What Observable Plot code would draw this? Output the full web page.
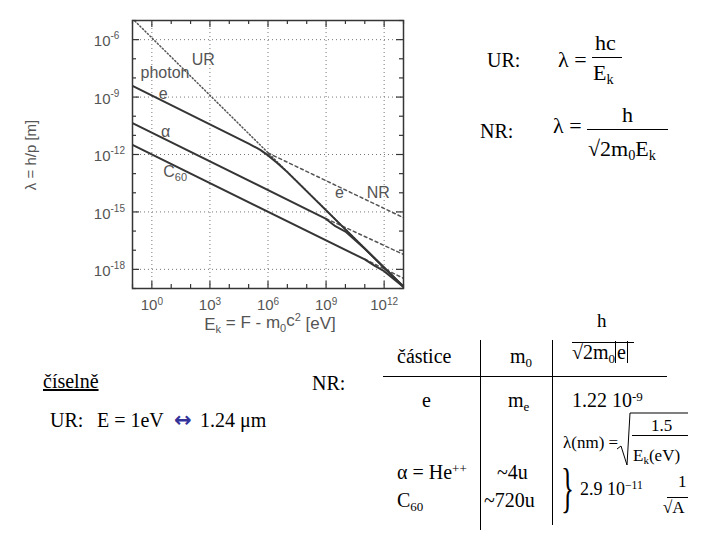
<!DOCTYPE html>
<html><head><meta charset="utf-8">
<script src="https://cdn.jsdelivr.net/npm/d3@7"></script>
<script src="https://cdn.jsdelivr.net/npm/@observablehq/plot@0.6"></script>
<style>
body{margin:0;background:#fff;}
#page{position:relative;width:720px;height:540px;overflow:hidden;font-family:"Liberation Serif","Times New Roman",serif;color:#000;background:#fff;}
#chart{position:absolute;left:0;top:0;}
.t{position:absolute;white-space:nowrap;line-height:1;}
.bar{position:absolute;background:#000;}
sub{font-size:0.65em;vertical-align:-0.3em;line-height:0;}
sup{font-size:0.65em;vertical-align:0.5em;line-height:0;}
</style></head>
<body><div id="page"><div id="chart"></div>

<!-- formulas, upper right -->
<div class="t" style="left:487px;top:50px;font-size:20px;">UR:</div>
<div class="t" style="left:558px;top:49px;font-size:22px;">λ =</div>
<div class="t" style="left:595px;top:32px;font-size:22px;">hc</div>
<div class="bar" style="left:592px;top:57px;width:30px;height:1px;"></div>
<div class="t" style="left:593px;top:62px;font-size:22px;">E<sub>k</sub></div>

<div class="t" style="left:480px;top:121px;font-size:20px;">NR:</div>
<div class="t" style="left:553px;top:115px;font-size:22px;">λ =</div>
<div class="t" style="left:622px;top:104px;font-size:22px;">h</div>
<div class="bar" style="left:587px;top:129px;width:81px;height:1px;"></div>
<div class="t" style="left:588px;top:138px;font-size:22px;">√2m<sub>0</sub>E<sub>k</sub></div>

<!-- lower left -->
<div class="t" style="left:43px;top:371px;font-size:20px;"><u>číselně</u></div>
<div class="t" style="left:312px;top:373px;font-size:20px;">NR:</div>
<div class="t" style="left:50px;top:410px;font-size:20px;">UR:</div>
<div class="t" style="left:97px;top:410px;font-size:20px;">E = 1eV</div>
<div class="t" style="left:174px;top:410px;font-size:21px;color:#33339a;font-weight:bold;font-family:'DejaVu Sans';">↔</div>
<div class="t" style="left:200px;top:410px;font-size:20px;">1.24 μm</div>

<!-- table -->
<div class="t" style="left:597px;top:311px;font-size:19px;">h</div>
<div class="bar" style="left:572px;top:342px;width:62px;height:1px;"></div>
<div class="t" style="left:572px;top:342px;font-size:20px;">√2m<sub>0</sub><span style="border-left:1px solid #000;border-right:1px solid #000;padding:0 1px;">e</span></div>
<div class="t" style="left:397px;top:346px;font-size:20px;">částice</div>
<div class="t" style="left:510px;top:346px;font-size:20px;">m<sub>0</sub></div>
<div class="bar" style="left:480px;top:340px;width:1px;height:190px;"></div>
<div class="bar" style="left:552px;top:340px;width:1px;height:185px;"></div>
<div class="bar" style="left:383px;top:376px;width:284px;height:1px;"></div>
<div class="t" style="left:422px;top:390px;font-size:20px;">e</div>
<div class="t" style="left:508px;top:390px;font-size:20px;">m<sub>e</sub></div>
<div class="t" style="left:572px;top:390px;font-size:20px;">1.22 10<sup>-9</sup></div>

<div class="t" style="left:563px;top:434px;font-size:17px;">λ(nm) =</div>
<svg style="position:absolute;left:0;top:0;" width="720" height="540">
  <path d="M617,449 L621,446 L627,465 L630,413 L688,413" fill="none" stroke="#000" stroke-width="1"/>
</svg>
<div class="t" style="left:651px;top:417px;font-size:17px;">1.5</div>
<div class="bar" style="left:632px;top:435px;width:56px;height:1px;"></div>
<div class="t" style="left:633px;top:447px;font-size:17px;">E<sub>k</sub>(eV)</div>

<div class="t" style="left:397px;top:462px;font-size:20px;">α = He<sup>++</sup></div>
<div class="t" style="left:497px;top:462px;font-size:20px;">~4u</div>
<div class="t" style="left:397px;top:490px;font-size:20px;">C<sub>60</sub></div>
<div class="t" style="left:484px;top:490px;font-size:20px;">~720u</div>
<div class="t" style="left:561px;top:461px;font-size:54px;transform:scaleX(0.5);transform-origin:left top;">}</div>
<div class="t" style="left:580px;top:480px;font-size:18px;">2.9 10<sup>−11</sup></div>
<div class="t" style="left:678px;top:473px;font-size:17px;">1</div>
<div class="bar" style="left:667px;top:497px;width:21px;height:1px;"></div>
<div class="t" style="left:663px;top:499px;font-size:17px;">√A</div>
</div>

<script>
// ---- data (E_k in eV, λ in m) ----
const photonE = [1e-1, 1e13];
const photonL = [1.24e-5, 1.24e-19];

const electronE = [1e-1, 1e5, 4e5, 1e6, 3e6, 1e7, 1e13];
const electronL = [3.8e-9, 3.7e-12, 1.75e-12, 9e-13, 3.6e-13, 1.2e-13, 1.24e-19];
const electronNRE = [1e6, 1e13];
const electronNRL = [1.2e-12, 5e-16];

const alphaE = [1e-1, 1e9, 3e9, 1e10, 1e11, 1e13];
const alphaL = [4.4e-11, 4.3e-16, 1.8e-16, 9.4e-17, 1.2e-17, 1.24e-19];
const alphaNRE = [1e9, 1e13];
const alphaNRL = [4.5e-16, 6e-18];

const c60E = [1e-1, 1e11, 3e11, 1e12, 1e13];
const c60L = [3.2e-12, 3.3e-18, 1.6e-18, 8e-19, 1.2e-19];
const c60NRE = [1e11, 1e13];
const c60NRL = [3.4e-18, 3.4e-19];

// labels drawn in the plot
const labelText = ["UR", "photon", "e", "α", "C60", "e", "NR"];
const labelE    = [450, 4.8, 3.8, 5.1, 16, 4.9e9, 5e11];
const labelL    = [9.3e-8, 1.9e-8, 1.5e-9, 1.45e-11, 1.26e-13, 1e-14, 1e-14];

// ticks
const xMajor = [1e0, 1e3, 1e6, 1e9, 1e12];
const yMajor = [1e-6, 1e-9, 1e-12, 1e-15, 1e-18];
const xMinor = [1e-1,1e1,1e2,1e4,1e5,1e7,1e8,1e10,1e11,1e13];
const yMinor = [1e-5,1e-7,1e-8,1e-10,1e-11,1e-13,1e-14,1e-16,1e-17,1e-19];

const rows = (E, L) => E.map((e, i) => ({E: e, L: L[i]}));
const labels = labelText.map((t, i) => ({t, E: labelE[i], L: labelL[i]}));

const W = 420, H = 340, mL = 132, mR = 17, mT = 20, mB = 52;
const PW = W - mL - mR, PH = H - mT - mB;
const ink = "#353535", gray = "#555";

const svg = Plot.plot({
  width: W, height: H,
  marginLeft: mL, marginRight: mR, marginTop: mT, marginBottom: mB,
  style: {fontFamily: "'Liberation Sans', Arial, sans-serif", fontSize: "15px", color: gray, background: "white"},
  x: {type: "log", domain: [1e-1, 1e13], axis: null},
  y: {type: "log", domain: [1e-19, 1e-5], axis: null},
  marks: [
    Plot.ruleX(xMajor, {x: d => d, stroke: "#777", strokeDasharray: "1,3", strokeWidth: 1}),
    Plot.ruleY(yMajor, {y: d => d, stroke: "#777", strokeDasharray: "1,3", strokeWidth: 1}),
    // inward ticks on all sides
    Plot.tickX(xMajor, {x: d => d, insetTop: PH - 7, stroke: ink, strokeWidth: 1.2}),
    Plot.tickX(xMinor, {x: d => d, insetTop: PH - 4, stroke: ink, strokeWidth: 1.2}),
    Plot.tickX(xMajor, {x: d => d, insetBottom: PH - 7, stroke: ink, strokeWidth: 1.2}),
    Plot.tickX(xMinor, {x: d => d, insetBottom: PH - 4, stroke: ink, strokeWidth: 1.2}),
    Plot.tickY(yMajor, {y: d => d, insetRight: PW - 7, stroke: ink, strokeWidth: 1.2}),
    Plot.tickY(yMinor, {y: d => d, insetRight: PW - 4, stroke: ink, strokeWidth: 1.2}),
    Plot.tickY(yMajor, {y: d => d, insetLeft: PW - 7, stroke: ink, strokeWidth: 1.2}),
    Plot.tickY(yMinor, {y: d => d, insetLeft: PW - 4, stroke: ink, strokeWidth: 1.2}),
    Plot.axisX(xMajor, {anchor: "bottom", tickSize: 0, tickPadding: 11, tickFormat: d => String(Math.round(Math.log10(d))), label: null}),
    Plot.axisY(yMajor, {anchor: "left", tickSize: 0, tickPadding: 22, dy: 2, tickFormat: d => String(Math.round(Math.log10(d))), label: null}),
    // lines
    Plot.line(rows(photonE, photonL), {x: "E", y: "L", stroke: gray, strokeWidth: 1.5, strokeDasharray: "1.2,2.3", clip: true}),
    Plot.line(rows(electronNRE, electronNRL), {x: "E", y: "L", stroke: gray, strokeWidth: 1.5, strokeDasharray: "3,3", clip: true}),
    Plot.line(rows(alphaNRE, alphaNRL), {x: "E", y: "L", stroke: gray, strokeWidth: 1.5, strokeDasharray: "3,3", clip: true}),
    Plot.line(rows(c60NRE, c60NRL), {x: "E", y: "L", stroke: gray, strokeWidth: 1.5, strokeDasharray: "3,3", clip: true}),
    Plot.line(rows(electronE, electronL), {x: "E", y: "L", stroke: ink, strokeWidth: 2, clip: true}),
    Plot.line(rows(alphaE, alphaL), {x: "E", y: "L", stroke: ink, strokeWidth: 2, clip: true}),
    Plot.line(rows(c60E, c60L), {x: "E", y: "L", stroke: ink, strokeWidth: 2, clip: true}),
    Plot.text(labels, {x: "E", y: "L", text: "t", fontSize: 16, fill: gray}),
    Plot.frame({stroke: ink, strokeWidth: 1.5})
  ]
});
document.getElementById("chart").appendChild(svg);

const S = d3.select(svg);
// x tick labels: 10 with superscript exponent, centered as a whole
S.selectAll("g[aria-label='x-axis tick label'] text").each(function() {
  const e = this.textContent; const t = d3.select(this); t.text("");
  t.append("tspan").text("10");
  t.append("tspan").attr("dy", "-0.5em").attr("font-size", "10px").text(e);
});
// y tick labels: "10" right-aligned, exponent hangs to the right
S.selectAll("g[aria-label='y-axis tick label'] text").each(function() {
  const e = this.textContent; const t = d3.select(this); t.text("10");
  d3.select(this.parentNode).append("text")
    .attr("transform", t.attr("transform")).attr("y", t.attr("y"))
    .attr("dy", "-0.55em").attr("text-anchor", "start").attr("font-size", "10px").text(e);
});
// subscript in C60 label
S.selectAll("g[aria-label='text'] text").each(function() {
  if (this.textContent === "C60") {
    const t = d3.select(this); t.text("");
    t.append("tspan").text("C");
    t.append("tspan").attr("dy", "0.35em").attr("font-size", "11px").text("60");
  }
});
// axis titles
const xl = S.append("text").attr("x", 270).attr("y", 330).attr("text-anchor", "middle")
  .attr("fill", gray).attr("font-size", "17px");
xl.append("tspan").text("E");
xl.append("tspan").attr("dy", "0.3em").attr("font-size", "11px").text("k");
xl.append("tspan").attr("dy", "-0.3em").text(" = F - m");
xl.append("tspan").attr("dy", "0.3em").attr("font-size", "11px").text("0");
xl.append("tspan").attr("dy", "-0.3em").text("c");
xl.append("tspan").attr("dy", "-0.5em").attr("font-size", "11px").text("2");
xl.append("tspan").attr("dy", "0.5em").text(" [eV]");
S.append("text").attr("transform", "translate(36,155) rotate(-90)").attr("text-anchor", "middle")
  .attr("fill", gray).attr("font-size", "15px").text("λ = h/p [m]");
</script>
</body></html>
